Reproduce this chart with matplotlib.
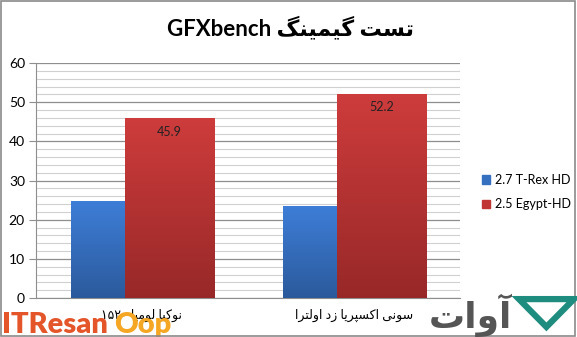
#!/usr/bin/env python3
"""GFXbench: نوکیا لومیا ۱۵۲۰ در برابر سونی اکسپریا زد اولترا."""
import matplotlib
matplotlib.use("Agg")
import matplotlib.pyplot as plt
import numpy as np
from matplotlib.colors import LinearSegmentedColormap
from matplotlib.patches import Rectangle, RegularPolygon

TITLE = "تست گیمینگ GFXbench"
categories = ["نوکیا لومیا ۱۵۲۰", "سونی اکسپریا زد اولترا"]
series_names = ["2.7 T-Rex HD", "2.5 Egypt-HD"]
trex = [24.8, 23.5]
egypt = [45.9, 52.2]

# presentation forms: isolated, final, initial, medial (None = no forward join)
FORMS = {
    "ا": ("\uFE8D", "\uFE8E", None, None),
    "آ": ("\uFE81", "\uFE82", None, None),
    "و": ("\uFEED", "\uFEEE", None, None),
    "ر": ("\uFEAD", "\uFEAE", None, None),
    "ز": ("\uFEAF", "\uFEB0", None, None),
    "د": ("\uFEA9", "\uFEAA", None, None),
    "ت": ("\uFE95", "\uFE96", "\uFE97", "\uFE98"),
    "س": ("\uFEB1", "\uFEB2", "\uFEB3", "\uFEB4"),
    "ن": ("\uFEE5", "\uFEE6", "\uFEE7", "\uFEE8"),
    "م": ("\uFEE1", "\uFEE2", "\uFEE3", "\uFEE4"),
    "ل": ("\uFEDD", "\uFEDE", "\uFEDF", "\uFEE0"),
    "پ": ("\uFB56", "\uFB57", "\uFB58", "\uFB59"),
    "گ": ("\uFB92", "\uFB93", "\uFB94", "\uFB95"),
    "ک": ("\uFB8E", "\uFB8F", "\uFB90", "\uFB91"),
    "ی": ("\uFBFC", "\uFBFD", "\uFBFE", "\uFBFF"),
}
LTR = set("0123456789.ABCDEFGHIJKLMNOPQRSTUVWXYZabcdefghijklmnopqrstuvwxyz۰۱۲۳۴۵۶۷۸۹")


def fa(text):
    """Very small reshaper + bidi for an RTL line (matplotlib has no shaping)."""
    shaped = []
    for i, c in enumerate(text):
        if c not in FORMS:
            shaped.append(c)
            continue
        prev = text[i - 1] if i > 0 else ""
        nxt = text[i + 1] if i + 1 < len(text) else ""
        jp = prev in FORMS and FORMS[prev][2] is not None
        jn = nxt in FORMS and FORMS[c][2] is not None
        iso, fin, ini, med = FORMS[c]
        shaped.append(med if jp and jn else fin if jp else ini if jn else iso)
    runs = []
    for c in shaped:
        kind = c in LTR
        if runs and runs[-1][0] == kind:
            runs[-1][1].append(c)
        else:
            runs.append((kind, [c]))
    out = []
    for kind, chars in reversed(runs):
        out.append("".join(chars if kind else chars[::-1]))
    return "".join(out)


FONT = ["Lato", "DejaVu Sans"]
plt.rcParams["font.family"] = FONT

x = np.arange(len(categories))
BLUE_OFF, BLUE_W = -0.335, 0.255
RED_OFF, RED_W = -0.08, 0.42

fig = plt.figure(figsize=(5.77, 3.37), dpi=100)
ax = fig.add_axes([0.0624, 0.1157, 0.7348, 0.6973])

cm_blue = LinearSegmentedColormap.from_list("b", ["#2B5A9C", "#3E7ED8"])
cm_red = LinearSegmentedColormap.from_list("r", ["#982828", "#CE3C3C"])
grad = np.linspace(0, 1, 256).reshape(-1, 1)

b1 = ax.bar(x + BLUE_OFF, trex, BLUE_W, align="edge", color="none",
            label=series_names[0], zorder=3)
b2 = ax.bar(x + RED_OFF, egypt, RED_W, align="edge", color="none",
            label=series_names[1], zorder=3)
for bars, cmap in ((b1, cm_blue), (b2, cm_red)):
    for bar in bars:
        x0, w, h = bar.get_x(), bar.get_width(), bar.get_height()
        im = ax.imshow(grad, cmap=cmap, origin="lower", aspect="auto",
                       extent=(x0, x0 + w, 0, h), zorder=3)
        im.set_clip_path(bar)

for bar, v in zip(b2, egypt):
    ax.text(bar.get_x() + bar.get_width() / 2, v - 1.9, f"{v:.1f}",
            ha="center", va="top", fontsize=9, color="#222222", zorder=4)

ax.set_xlim(-0.5, 1.5)
ax.set_ylim(0, 60)
ax.set_yticks(np.arange(0, 61, 10))
ax.set_yticks(np.arange(0, 61, 2), minor=True)
ax.grid(axis="y", which="minor", color="#D0D0D0", lw=0.8, zorder=0)
ax.grid(axis="y", which="major", color="#8E8E8E", lw=0.9, zorder=1)
ax.set_xticks(x)
ax.set_xticklabels([fa(c) for c in categories], fontsize=9)
ax.tick_params(axis="x", length=0, pad=8)
ax.tick_params(axis="y", which="major", length=5, color="#8E8E8E",
               labelsize=10, pad=3)
ax.tick_params(axis="y", which="minor", length=0)
for s in ("top", "right"):
    ax.spines[s].set_visible(False)
for s in ("left", "bottom"):
    ax.spines[s].set_color("#8E8E8E")
ax.set_axisbelow(True)

# legend with plain squares
h1 = Rectangle((0, 0), 1, 1, color="#3570C0")
h2 = Rectangle((0, 0), 1, 1, color="#C03434")
fig.legend([h1, h2], series_names, loc="center left",
           bbox_to_anchor=(0.815, 0.43), frameon=False, fontsize=9,
           handlelength=0.7, handleheight=0.7, handletextpad=0.35,
           labelspacing=1.0)

fig.text(0.503, 0.918, fa(TITLE), ha="center", va="center",
         fontsize=16, fontweight="bold", family=FONT)

# chart border
fig.patches.append(Rectangle((0.002, 0.003), 0.995, 0.994,
                             transform=fig.transFigure, fill=False,
                             edgecolor="#8A8A8A", lw=1.2))

# watermarks (overlap the category label, as in the source image)
fig.text(0.003, 0.012, "ITResan", fontsize=21, fontweight="heavy",
         color="#E4552A", va="baseline", ha="left", zorder=0)
fig.text(0.197, 0.012, "Oop", fontsize=21, fontweight="heavy",
         color="#F5A623", va="baseline", ha="left", zorder=0)
fig.text(0.815, 0.065, fa("آوات"), fontsize=26, fontweight="bold",
         color="#555555", va="center", ha="center", family=FONT)
fig.patches.append(RegularPolygon((0.947, 0.085), 3, radius=0.055,
                                  orientation=np.pi, transform=fig.transFigure,
                                  fill=False, edgecolor="#1E8C7E", lw=4.5))

fig.savefig("out.png", dpi=100)
